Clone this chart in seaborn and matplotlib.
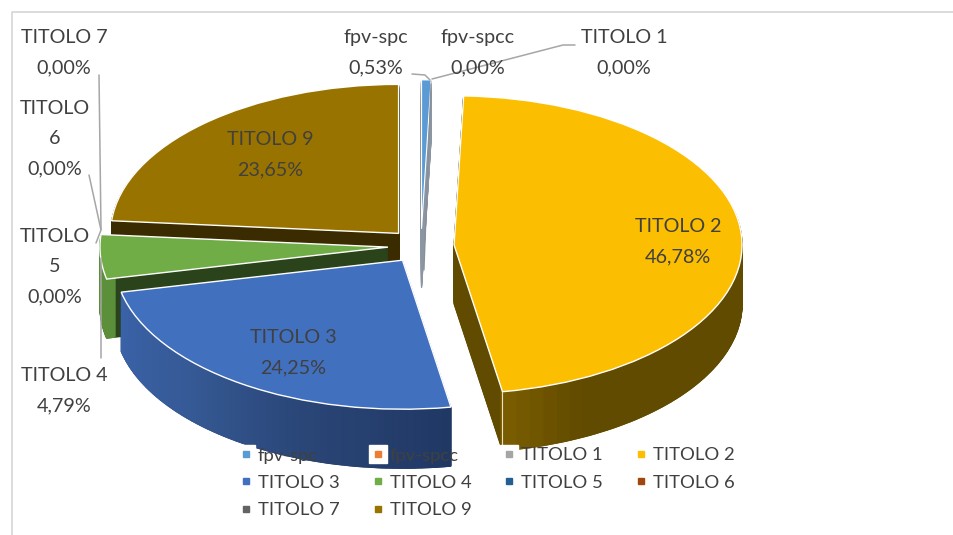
import matplotlib
matplotlib.use("Agg")
import matplotlib.pyplot as plt
import numpy as np
import seaborn as sns
from matplotlib.legend_handler import HandlerTuple
from matplotlib.lines import Line2D

# ---- data ----
names = ["fpv-spc", "fpv-spcc", "TITOLO 1", "TITOLO 2", "TITOLO 3",
         "TITOLO 4", "TITOLO 5", "TITOLO 6", "TITOLO 7", "TITOLO 9"]
values = [0.53, 0.00, 0.00, 46.78, 24.25, 4.79, 0.00, 0.00, 0.00, 23.65]
value_text = ["0,53%", "0,00%", "0,00%", "46,78%", "24,25%",
              "4,79%", "0,00%", "0,00%", "0,00%", "23,65%"]

# ---- styles ----
palette = sns.color_palette(["#5B9BD5", "#ED7D31", "#A5A5A5", "#FBBE00", "#4170BF",
                             "#70AD47", "#255E91", "#9E480E", "#636363", "#997300"])
face_col = {"fpv-spc": "#8A96A3", "TITOLO 2": "#614B00", "TITOLO 3": "#203864",
            "TITOLO 4": "#2A431A", "TITOLO 9": "#3A2C00"}
arc_stops = {"fpv-spc": ["#8A96A3", "#8A96A3"],
             "TITOLO 2": ["#614B00"] * 11 + ["#7A5C00"],
             "TITOLO 3": ["#203864", "#2A4677", "#365A96", "#3A62A8"],
             "TITOLO 4": ["#5C8F3A", "#5C8F3A"],
             "TITOLO 9": ["#3A2C00", "#3A2C00"]}
draw_order = ["TITOLO 9", "fpv-spc", "TITOLO 2", "TITOLO 4", "TITOLO 3"]
EXPLODE = 0.115
W, H = 954, 535
CX, CY, RX, RY = 421, 246, 288, 149   # pie centre and radii in pixels
DEPTH = 59
TXT = "#404040"
LEAD = "#A6A6A6"
FONT = 14.2

sns.set_theme(style="white")
plt.rcParams["font.family"] = ["Lato", "DejaVu Sans"]

fig = plt.figure(figsize=(W / 100, H / 100), dpi=100, facecolor="white")
ax = fig.add_axes([0, 0, 1, 1])


def centre_of(i):
    start = sum(values[:i])
    mid = np.deg2rad((start + values[i] / 2) * 3.6)
    return EXPLODE * np.sin(mid), EXPLODE * np.cos(mid)


def draw_slice(i, parts, colors, dy=0.0, edge=None, lw=0.0, ring=None):
    start = sum(values[:i])
    rest = max(100 - start - sum(parts), 0.0)
    cx, cy = centre_of(i)
    props = {"linewidth": 0}
    if ring is not None:
        props["width"] = ring
    wedges, _ = ax.pie([start] + parts + [rest], startangle=90, counterclock=False,
                       center=(cx, cy - dy), colors=["white"] + colors + ["white"],
                       labeldistance=None, wedgeprops=props, normalize=True)
    wedges[0].remove()
    wedges[-1].remove()
    for w, c in zip(wedges[1:-1], colors):
        w.set_edgecolor(edge if edge else c)
        w.set_linewidth(lw if edge else 0.9)


for name in draw_order:
    i = names.index(name)
    v = values[i]
    stops = arc_stops[name]
    n = 60 if v > 10 else 4
    pos = np.linspace(0, len(stops) - 1, n)
    rgb = np.array([matplotlib.colors.to_rgb(s) for s in stops])
    cols = [tuple(np.interp(p, np.arange(len(stops)), rgb[:, k]) for k in range(3)) for p in pos]
    # cut faces first, then the outer side on top of them, then the top surface
    for d in np.arange(DEPTH, 0, -1.0):
        draw_slice(i, [v], [face_col[name]], dy=d / RY)
    for d in np.arange(DEPTH, 0, -1.0):
        draw_slice(i, [v / n] * n, cols, dy=d / RY, ring=0.03)
    draw_slice(i, [v], [palette[i]], edge="white", lw=1.0 if v > 1 else 0.8)

ax.set_aspect("auto")
ax.set_xlim(-CX / RX, (W - CX) / RX)
ax.set_ylim((CY - H) / RY, CY / RY)
ax.set_axis_off()


def px_line(xs, ys, color=LEAD, lw=1.1):
    fig.add_artist(Line2D(np.array(xs) / W, 1 - np.array(ys) / H, color=color, lw=lw, zorder=6))


# edge between the cut face and the outer side of TITOLO 2
i2 = names.index("TITOLO 2")
end = np.deg2rad((sum(values[:i2]) + values[i2]) * 3.6)
ex, ey = centre_of(i2)
ex += np.sin(end)
ey += np.cos(end)
ax.plot([ex, ex], [ey, ey - DEPTH / RY], color="#E8E0C8", lw=0.8)

# leader lines and chart border
px_line([575, 563, 432], [45, 45, 79])
px_line([412, 425, 430], [74, 75, 80])
px_line([99, 101], [75, 229])
px_line([89, 101], [175, 230])
px_line([96, 101], [243, 230])
px_line([101, 101], [258, 358])
px_line([431, 424], [84, 270], color="#8A8F96", lw=0.9)
px_line([12, 12, 954], [535, 12, 12], color="#D9D9D9", lw=1.3)

# data labels: centre pixel of the block
label_pos = {"fpv-spc": (376, 52.5), "fpv-spcc": (478, 52.5), "TITOLO 1": (624, 52.5),
             "TITOLO 2": (678, 241.5), "TITOLO 3": (293, 352.5), "TITOLO 4": (64, 390.5),
             "TITOLO 5": (55, 266.5), "TITOLO 6": (55, 138.5), "TITOLO 7": (64, 52.5),
             "TITOLO 9": (270, 154.5)}
for i, name in enumerate(names):
    head = name.replace(" ", "\n") if name in ("TITOLO 5", "TITOLO 6") else name
    x, y = label_pos[name]
    fig.text(x / W, 1 - y / H, head + "\n" + value_text[i], ha="center", va="center",
             ma="center", color=TXT, fontsize=FONT, linespacing=1.95, zorder=7)

# legend: entries run row by row in the chart, matplotlib fills columns
leg_order = [0, 4, 8, 1, 5, 9, 2, 6, 3, 7]
handles = [(Line2D([], [], ls="", marker="s", ms=12.5, mfc="white", mec="white"),
            Line2D([], [], ls="", marker="s", ms=5, mfc=palette[k], mec=palette[k]))
           for k in leg_order]
leg = ax.legend(handles, [names[k] for k in leg_order], ncol=4, frameon=False,
                handler_map={tuple: HandlerTuple(ndivide=1, pad=0)},
                loc="upper left", bbox_to_anchor=(236.7 / W, 1 - 447.5 / H),
                bbox_transform=fig.transFigure, borderaxespad=0, borderpad=0,
                fontsize=13.3, labelspacing=0.61, handlelength=1.0,
                handletextpad=0.15, columnspacing=1.55, labelcolor=TXT)
leg.set_zorder(8)

fig.savefig("out.png", dpi=100, facecolor="white")
